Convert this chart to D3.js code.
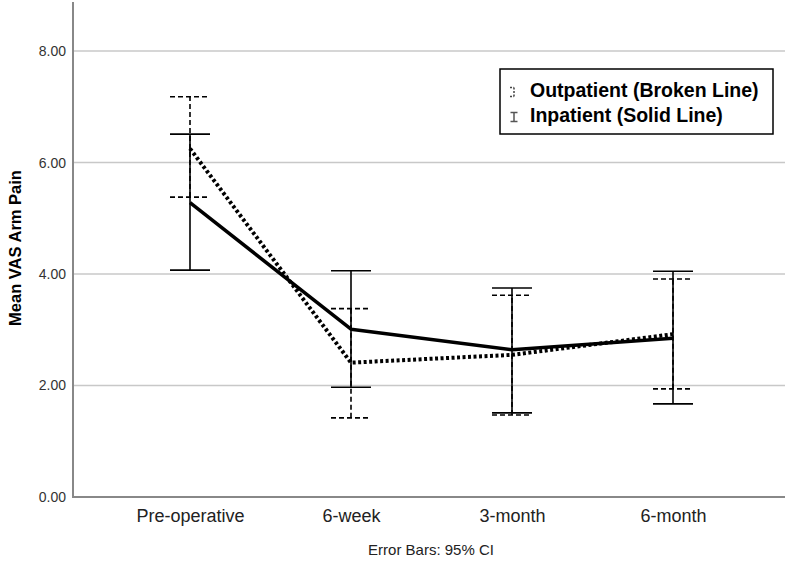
<!DOCTYPE html>
<html><head><meta charset="utf-8">
<script src="https://cdn.jsdelivr.net/npm/d3@7"></script>
<style>body{margin:0;background:#fff}svg{display:block}text{font-family:"Liberation Sans",Arial,sans-serif}</style>
</head><body>
<svg id="c" width="792" height="562"></svg>
<script>
const categories = ["Pre-operative","6-week","3-month","6-month"];
const inpatientMean = [5.28, 3.01, 2.64, 2.85];
const inpatientLow  = [4.07, 1.97, 1.51, 1.67];
const inpatientHigh = [6.51, 4.06, 3.75, 4.05];
const outpatientMean = [6.25, 2.41, 2.55, 2.92];
const outpatientLow  = [5.38, 1.42, 1.47, 1.94];
const outpatientHigh = [7.18, 3.38, 3.62, 3.91];
const yTicks = [0, 2, 4, 6, 8];
const legendLabels = ["Outpatient (Broken Line)", "Inpatient (Solid Line)"];

const svg = d3.select("#c");
const x0 = 73, x1 = 785, yBottom = 497, yTop = 2;
const x = d3.scalePoint().domain(categories).range([190, 673]);
const y = d3.scaleLinear().domain([0, 8.88]).range([yBottom, yTop]);

// gridlines
svg.append("g").selectAll("line").data(yTicks.filter(d=>d>0)).join("line")
  .attr("x1", x0).attr("x2", x1).attr("y1", d=>y(d)).attr("y2", d=>y(d))
  .attr("stroke", "#c8c8c8").attr("stroke-width", 1.5);

// y axis
const yAxis = svg.append("g").attr("transform", `translate(${x0},0)`)
  .call(d3.axisLeft(y).tickValues(yTicks).tickFormat(d3.format(".2f")).tickSize(0).tickPadding(7));
yAxis.select(".domain").remove();
yAxis.selectAll("text").attr("font-size", 14).attr("fill", "#333").attr("font-family", "Liberation Sans, Arial, sans-serif");

// x axis
const xAxis = svg.append("g").attr("transform", `translate(0,${yBottom})`)
  .call(d3.axisBottom(x).tickSize(0).tickPadding(12));
xAxis.select(".domain").remove();
xAxis.selectAll("text").attr("font-size", 18).attr("fill", "#222").attr("font-family", "Liberation Sans, Arial, sans-serif");

svg.append("line").attr("x1", x0).attr("x2", x0).attr("y1", yTop).attr("y2", yBottom)
  .attr("stroke", "#888").attr("stroke-width", 2);
svg.append("line").attr("x1", x0-1).attr("x2", x1).attr("y1", yBottom).attr("y2", yBottom)
  .attr("stroke", "#888").attr("stroke-width", 2);

// error bars
function errorBars(low, high, dash) {
  const g = svg.append("g").attr("stroke", "#000").attr("stroke-width", 1.6)
    .attr("stroke-dasharray", dash);
  categories.forEach((c, i) => {
    const cx = x(c);
    g.append("line").attr("x1", cx).attr("x2", cx).attr("y1", y(low[i])).attr("y2", y(high[i]));
    g.append("line").attr("x1", cx-20).attr("x2", cx+20).attr("y1", y(low[i])).attr("y2", y(low[i]));
    g.append("line").attr("x1", cx-20).attr("x2", cx+20).attr("y1", y(high[i])).attr("y2", y(high[i]));
  });
}
errorBars(outpatientLow, outpatientHigh, "5,3");
errorBars(inpatientLow, inpatientHigh, null);

// lines
const line = d3.line().x((d,i)=>x(categories[i])).y(d=>y(d));
svg.append("path").datum(outpatientMean).attr("d", line)
  .attr("fill", "none").attr("stroke", "#000").attr("stroke-width", 4)
  .attr("stroke-dasharray", "3,2.5");
svg.append("path").datum(inpatientMean).attr("d", line)
  .attr("fill", "none").attr("stroke", "#000").attr("stroke-width", 3.5)
  .attr("stroke-linejoin", "round");

// y title
svg.append("text").attr("transform", "translate(21,248) rotate(-90)")
  .attr("text-anchor", "middle").attr("font-size", 16.5).attr("font-weight", "bold")
  .text("Mean VAS Arm Pain");

// footnote
svg.append("text").attr("x", 431).attr("y", 555).attr("text-anchor", "middle")
  .attr("font-size", 15).attr("fill", "#222").text("Error Bars: 95% CI");

// legend
const lg = svg.append("g");
lg.append("rect").attr("x", 500).attr("y", 69).attr("width", 273).attr("height", 65)
  .attr("fill", "#fff").attr("stroke", "#000").attr("stroke-width", 1.5);
legendLabels.forEach((t, i) => {
  const by = 97 + i*25;
  lg.append("text").attr("x", 530).attr("y", by).attr("font-size", 19.5).attr("font-weight", "bold").text(t);
  const ix = 514, top = by - 9.5, bot = by - 0.5;
  const ig = lg.append("g").attr("stroke", i===0 ? "#444" : "#555").attr("stroke-width", 1.5);
  if (i === 0) {
    ig.attr("stroke-dasharray", "2,1.5");
    ig.append("line").attr("x1", ix).attr("x2", ix).attr("y1", top).attr("y2", bot);
    ig.append("line").attr("x1", ix-4).attr("x2", ix).attr("y1", top).attr("y2", top);
    ig.append("line").attr("x1", ix-4).attr("x2", ix).attr("y1", bot).attr("y2", bot);
  } else {
    ig.append("line").attr("x1", ix).attr("x2", ix).attr("y1", top).attr("y2", bot);
    ig.append("line").attr("x1", ix-3.5).attr("x2", ix+3.5).attr("y1", top).attr("y2", top);
    ig.append("line").attr("x1", ix-3.5).attr("x2", ix+3.5).attr("y1", bot).attr("y2", bot);
  }
});
</script>
</body></html>
